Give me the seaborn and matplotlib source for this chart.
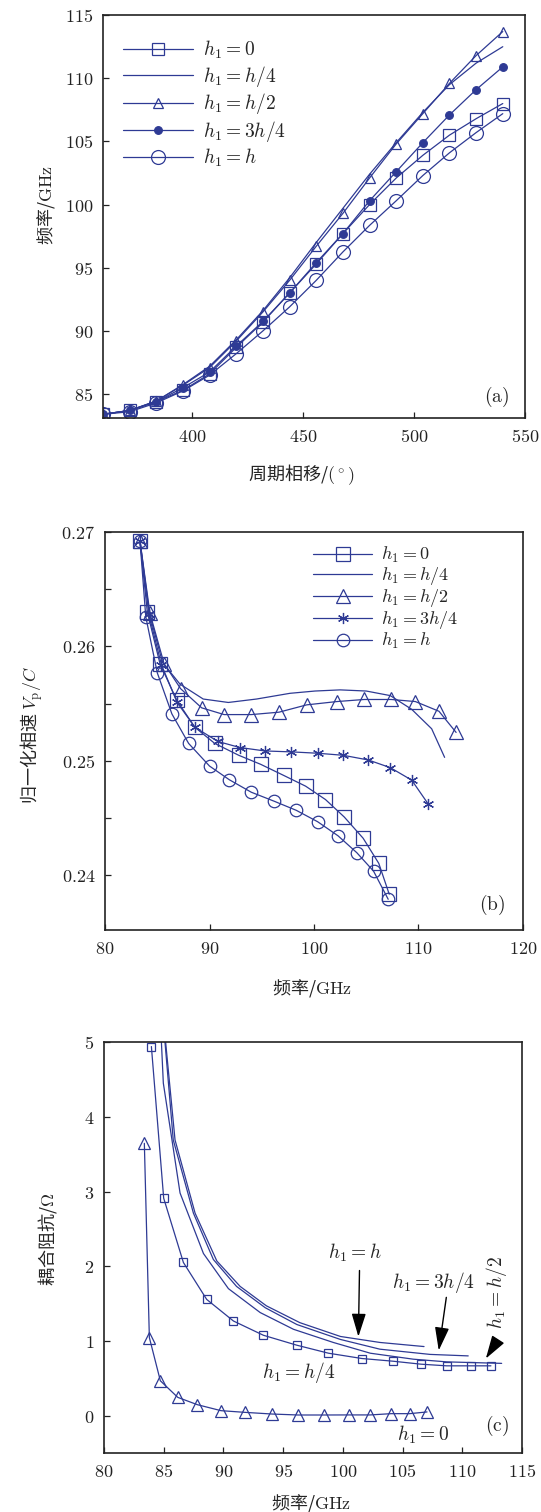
import matplotlib
matplotlib.use("Agg")
from matplotlib import pyplot as plt
from matplotlib.ticker import FuncFormatter, MultipleLocator
import seaborn as sns

# ---- panel (a): frequency vs phase shift
phase = [360, 372, 384, 396, 408, 420, 432, 444, 456, 468, 480, 492, 504, 516, 528, 540]
a_h0 = [83.4, 83.7, 84.4, 85.3, 86.6, 88.7, 90.7, 93.0, 95.3, 97.7, 100.0, 102.1, 103.9, 105.5, 106.8, 108.0]
a_h4 = [83.4, 83.7, 84.45, 85.75, 87.2, 89.3, 91.6, 94.2, 97.0, 99.7, 102.4, 104.9, 107.3, 109.5, 111.2, 112.5]
a_h2 = [83.4, 83.7, 84.45, 85.7, 87.1, 89.2, 91.5, 94.0, 96.7, 99.3, 102.1, 104.8, 107.2, 109.6, 111.8, 113.7]
a_h34 = [83.4, 83.7, 84.4, 85.5, 86.75, 88.8, 90.75, 93.0, 95.4, 97.7, 100.3, 102.6, 104.9, 107.1, 109.1, 110.9]
a_hh = [83.4, 83.6, 84.3, 85.25, 86.5, 88.2, 90.0, 91.9, 94.0, 96.25, 98.35, 100.3, 102.3, 104.1, 105.7, 107.2]

# ---- panel (b): normalized phase velocity vs frequency
b_h0_f = [83.35, 84.05, 85.26, 86.86, 88.6, 90.5, 92.8, 94.9, 97.1, 99.2, 101.1, 102.9, 104.7, 106.2, 107.2]
b_h0_v = [0.2692, 0.2630, 0.2585, 0.2553, 0.25293, 0.25152, 0.25048, 0.24969, 0.24872, 0.24778, 0.24661, 0.24508, 0.24323, 0.24103, 0.23833]
b_h4_f = [83.35, 84.25, 85.5, 87.18, 89.4, 91.8, 94.5, 97.7, 100.1, 102.5, 105.0, 107.3, 109.35, 111.26, 112.5]
b_h4_v = [0.2692, 0.2629, 0.2586, 0.2567, 0.2554, 0.2551, 0.2554, 0.2559, 0.2561, 0.2562, 0.2561, 0.2557, 0.2545, 0.2528, 0.2503]
b_h2_f = [83.35, 84.3, 85.65, 87.24, 89.25, 91.4, 94.0, 96.65, 99.3, 102.2, 104.8, 107.4, 109.7, 111.96, 113.6]
b_h2_v = [0.2692, 0.2629, 0.2585, 0.2563, 0.25463, 0.25404, 0.25404, 0.25425, 0.25489, 0.25518, 0.25536, 0.25536, 0.25518, 0.25433, 0.25248]
b_h34_f = [83.35, 84.2, 85.4, 86.9, 88.6, 90.8, 92.9, 95.3, 97.8, 100.35, 102.8, 105.2, 107.3, 109.35, 110.9]
b_h34_v = [0.2692, 0.2628, 0.2584, 0.2551, 0.25293, 0.25169, 0.25116, 0.25086, 0.25078, 0.25066, 0.25048, 0.25007, 0.2494, 0.24831, 0.24626]
b_hh_f = [83.35, 83.9, 85.0, 86.4, 88.0, 90.0, 91.9, 94.0, 96.2, 98.3, 100.35, 102.3, 104.1, 105.7, 107.1]
b_hh_v = [0.2692, 0.2626, 0.2577, 0.2541, 0.25152, 0.24954, 0.24834, 0.24725, 0.24646, 0.24567, 0.24467, 0.24344, 0.24196, 0.24035, 0.23789]

# ---- panel (c): coupling impedance vs frequency
c_sq_f = [83.97, 85.0, 86.65, 88.6, 90.84, 93.35, 96.15, 98.8, 101.6, 104.2, 106.55, 108.7, 110.7, 112.4]
c_sq_z = [4.94, 2.91, 2.05, 1.556, 1.267, 1.076, 0.943, 0.836, 0.765, 0.729, 0.689, 0.667, 0.667, 0.667]
c_tri_f = [83.38, 83.8, 84.72, 86.18, 87.82, 89.8, 91.84, 94.08, 96.26, 98.44, 100.48, 102.3, 104.06, 105.6, 107.05]
c_tri_z = [3.645, 1.045, 0.467, 0.245, 0.147, 0.067, 0.044, 0.022, 0.009, 0.009, 0.01, 0.01, 0.027, 0.027, 0.05]
c_h2_f = [84.72, 84.97, 86.37, 88.33, 90.42, 93.08, 95.87, 99.2, 102.3, 105.9, 108.7, 113.3]
c_h2_z = [5.3, 4.45, 2.98, 2.17, 1.70, 1.38, 1.156, 0.98, 0.836, 0.756, 0.72, 0.70]
c_h34_f = [84.95, 85.8, 87.49, 89.16, 91.1, 93.5, 96.15, 99.8, 103.1, 107.3, 110.5]
c_h34_z = [5.3, 3.69, 2.71, 2.09, 1.73, 1.445, 1.22, 1.02, 0.89, 0.82, 0.80]
c_hh_f = [84.98, 85.95, 87.63, 89.45, 91.4, 93.6, 96.4, 99.8, 103.1, 106.8]
c_hh_z = [5.3, 3.69, 2.71, 2.07, 1.73, 1.47, 1.245, 1.06, 0.98, 0.925]

labels = ['$h_1=0$', '$h_1=h/4$', '$h_1=h/2$', '$h_1=3h/4$', '$h_1=h$']

sns.set_style('white')
plt.rcParams['font.family'] = ['Noto Sans CJK SC', 'DejaVu Sans']
plt.rcParams['mathtext.fontset'] = 'cm'
plt.rcParams['axes.unicode_minus'] = False

blue = '#2e3a94'
lw = 0.9
mathfmt = FuncFormatter(lambda v, p: f'${v:g}$')


def style_axes(ax):
    for s in ax.spines.values():
        s.set_color('#222222')
        s.set_linewidth(1.2)
    ax.tick_params(direction='in', length=4, width=0.9, colors='#222222',
                   labelsize=13, pad=7, left=True, bottom=True)
    ax.xaxis.set_major_formatter(mathfmt)
    ax.yaxis.set_major_formatter(mathfmt)


def line(ax, x, y, marker=None, ms=7, fill=False, label=None):
    sns.lineplot(x=x, y=y, ax=ax, sort=False, estimator=None, color=blue,
                 lw=lw, marker=marker, ms=ms,
                 mfc=blue if fill else 'none', mec=blue, mew=0.9,
                 label=label, legend=False)


fig = plt.figure(figsize=(5.41, 15.12), dpi=100)

# (a)
ax = fig.add_axes([0.1904, 0.7235, 0.780, 0.2665])
line(ax, phase, a_h0, 's', 8, label=labels[0])
line(ax, phase, a_h4, None, label=labels[1])
line(ax, phase, a_h2, '^', 7.5, label=labels[2])
line(ax, phase, a_h34, 'o', 5.5, fill=True, label=labels[3])
line(ax, phase, a_hh, 'o', 10, label=labels[4])
ax.set_xlim(360, 550)
ax.set_ylim(83.1, 115)
ax.set_xticks([400, 450, 500, 550])
ax.set_yticks([85, 90, 95, 100, 105, 110, 115])
style_axes(ax)
ax.set_xlabel('周期相移/$(^\\circ)$', fontsize=13)
ax.set_ylabel('频率/$\\mathrm{GHz}$', fontsize=13)
ax.xaxis.set_label_coords(0.47, -0.109)
ax.yaxis.set_label_coords(-0.109, 0.53)
ax.text(537, 84.76, '$(\\mathrm{a})$', fontsize=14, ha='center', va='center')
ax.legend(loc='upper left', frameon=False, fontsize=14, handlelength=3.6,
          handletextpad=0.5, labelspacing=0.13, bbox_to_anchor=(0.03, 0.96),
          borderaxespad=0)

# (b)
ax = fig.add_axes([0.1941, 0.3849, 0.7726, 0.2632])
line(ax, b_h0_f, b_h0_v, 's', 9.5, label=labels[0])
line(ax, b_h4_f, b_h4_v, None, label=labels[1])
line(ax, b_h2_f, b_h2_v, '^', 10, label=labels[2])
line(ax, b_h34_f, b_h34_v, (6, 2, 0), 8, label=labels[3])
line(ax, b_hh_f, b_hh_v, 'o', 9, label=labels[4])
ax.set_xlim(80, 120)
ax.set_ylim(0.2352, 0.27)
ax.set_xticks([80, 90, 100, 110, 120])
ax.set_yticks([0.24, 0.25, 0.26, 0.27])
ax.yaxis.set_minor_locator(MultipleLocator(0.005))
style_axes(ax)
ax.tick_params(which='minor', direction='in', length=4, width=0.9, left=True)
ax.set_xlabel('频率/$\\mathrm{GHz}$', fontsize=13)
ax.set_ylabel('归一化相速 $V_\\mathrm{p}/C$', fontsize=13)
ax.xaxis.set_label_coords(0.495, -0.118)
ax.yaxis.set_label_coords(-0.143, 0.49)
ax.text(117.0, 0.23736, '$(\\mathrm{b})$', fontsize=14, ha='center', va='center')
ax.legend(loc='upper left', frameon=False, fontsize=13, handlelength=3.3,
          handletextpad=0.5, labelspacing=0.0, bbox_to_anchor=(0.48, 0.985),
          borderaxespad=0)

# (c)
ax = fig.add_axes([0.1922, 0.0390, 0.7726, 0.2718])
line(ax, c_sq_f, c_sq_z, 's', 6)
line(ax, c_tri_f, c_tri_z, '^', 8)
line(ax, c_h2_f, c_h2_z)
line(ax, c_h34_f, c_h34_z)
line(ax, c_hh_f, c_hh_z)
ax.set_xlim(80, 115)
ax.set_ylim(-0.5, 5)
ax.set_xticks([80, 85, 90, 95, 100, 105, 110, 115])
ax.set_yticks([0, 1, 2, 3, 4, 5])
style_axes(ax)
ax.set_xlabel('频率/$\\mathrm{GHz}$', fontsize=13)
ax.set_ylabel('耦合阻抗/$\\Omega$', fontsize=13)
ax.xaxis.set_label_coords(0.495, -0.095)
ax.yaxis.set_label_coords(-0.107, 0.52)
arrow = dict(arrowstyle='-|>,head_length=0.65,head_width=0.2', color='black',
             lw=1.0, mutation_scale=22)
ax.annotate('', xy=(101.3, 1.02), xytext=(101.4, 1.98), arrowprops=arrow)
ax.text(101.0, 2.18, '$h_1=h$', fontsize=14, ha='center', va='center')
ax.annotate('', xy=(108.0, 0.836), xytext=(108.7, 1.62), arrowprops=arrow)
ax.text(107.6, 1.78, '$h_1=3h/4$', fontsize=14, ha='center', va='center')
ax.annotate('', xy=(111.85, 0.733), xytext=(113.0, 1.02), arrowprops=arrow)
ax.text(112.9, 1.65, '$h_1=h/2$', fontsize=14, ha='center', va='center', rotation=90)
ax.text(96.3, 0.58, '$h_1=h/4$', fontsize=14, ha='center', va='center')
ax.text(106.7, -0.25, '$h_1=0$', fontsize=14, ha='center', va='center')
ax.text(112.9, -0.14, '$(\\mathrm{c})$', fontsize=14, ha='center', va='center')

fig.savefig('out.png', dpi=100)
